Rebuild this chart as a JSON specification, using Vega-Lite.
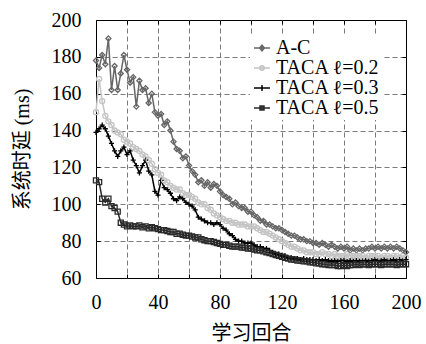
{
  "$schema": "https://vega.github.io/schema/vega-lite/v6.json",
  "width": 310,
  "height": 258,
  "autosize": {"type": "none"},
  "padding": {"left": 96, "top": 20, "right": 20, "bottom": 66},
  "background": "white",
  "config": {"view": {"stroke": "black", "strokeWidth": 1}, "font": "Liberation Serif"},
  "data": {"values": [
    {"x":0,"a":178,"b":150,"c":139,"d":113},
    {"x":2,"a":174,"b":168,"c":141,"d":112},
    {"x":4,"a":181,"b":156,"c":143,"d":103},
    {"x":6,"a":176,"b":148,"c":141,"d":101},
    {"x":8,"a":190,"b":145,"c":137,"d":103},
    {"x":10,"a":162,"b":143,"c":133,"d":99},
    {"x":12,"a":175,"b":140,"c":129,"d":98},
    {"x":14,"a":162,"b":139,"c":126,"d":96},
    {"x":16,"a":171,"b":138,"c":129,"d":90},
    {"x":18,"a":181,"b":135,"c":131,"d":89},
    {"x":20,"a":173,"b":134,"c":127,"d":88},
    {"x":22,"a":166,"b":133,"c":129,"d":88.5},
    {"x":24,"a":169,"b":131,"c":124,"d":88},
    {"x":26,"a":153,"b":130,"c":121,"d":88},
    {"x":28,"a":167,"b":129,"c":117,"d":88.5},
    {"x":30,"a":162,"b":127,"c":121,"d":87.5},
    {"x":32,"a":163,"b":126,"c":124,"d":88},
    {"x":34,"a":155,"b":124,"c":118,"d":87},
    {"x":36,"a":160,"b":122,"c":116,"d":87.5},
    {"x":38,"a":150,"b":119,"c":107,"d":87},
    {"x":40,"a":148,"b":117,"c":105,"d":86.5},
    {"x":42,"a":149,"b":116,"c":113,"d":86},
    {"x":44,"a":143,"b":113,"c":109,"d":86},
    {"x":46,"a":145,"b":112,"c":108,"d":85.5},
    {"x":48,"a":140,"b":110,"c":106,"d":85},
    {"x":50,"a":134,"b":109,"c":103,"d":85},
    {"x":52,"a":130,"b":108,"c":102,"d":84},
    {"x":54,"a":129,"b":108,"c":104,"d":84},
    {"x":56,"a":125,"b":106,"c":103,"d":83.5},
    {"x":58,"a":126,"b":105,"c":101,"d":83},
    {"x":60,"a":121,"b":105,"c":100,"d":83},
    {"x":62,"a":118,"b":104,"c":99,"d":82.5},
    {"x":64,"a":116,"b":103,"c":97,"d":82},
    {"x":66,"a":112,"b":101,"c":93,"d":82},
    {"x":68,"a":113,"b":100,"c":92,"d":81},
    {"x":70,"a":110,"b":100,"c":91,"d":80.5},
    {"x":72,"a":112,"b":98,"c":90,"d":80},
    {"x":74,"a":109,"b":97,"c":90,"d":80},
    {"x":76,"a":111,"b":95,"c":89,"d":79.5},
    {"x":78,"a":110,"b":94,"c":90,"d":79},
    {"x":80,"a":107,"b":93,"c":89,"d":78.5},
    {"x":82,"a":105,"b":92,"c":87,"d":78},
    {"x":84,"a":104,"b":91,"c":86,"d":78},
    {"x":86,"a":103,"b":91,"c":84,"d":77.5},
    {"x":88,"a":100,"b":90,"c":83,"d":77},
    {"x":90,"a":101,"b":90,"c":81,"d":77},
    {"x":92,"a":99,"b":89,"c":80,"d":77},
    {"x":94,"a":98,"b":89,"c":80,"d":76.5},
    {"x":96,"a":98,"b":89,"c":79,"d":76.5},
    {"x":98,"a":96,"b":88,"c":79,"d":76},
    {"x":100,"a":96,"b":88,"c":79,"d":76},
    {"x":102,"a":94,"b":88,"c":78,"d":75.5},
    {"x":104,"a":93,"b":87,"c":77,"d":75},
    {"x":106,"a":91,"b":86,"c":77,"d":75},
    {"x":108,"a":91,"b":85,"c":76,"d":74.5},
    {"x":110,"a":89,"b":85,"c":76,"d":74},
    {"x":112,"a":89,"b":84,"c":75,"d":73.5},
    {"x":114,"a":88,"b":83,"c":74,"d":73},
    {"x":116,"a":87,"b":82,"c":73,"d":72.5},
    {"x":118,"a":87,"b":81,"c":73,"d":72},
    {"x":120,"a":86,"b":80,"c":72,"d":71.5},
    {"x":122,"a":85,"b":79,"c":72,"d":71},
    {"x":124,"a":84,"b":78,"c":71,"d":70.5},
    {"x":126,"a":83,"b":77,"c":71,"d":70},
    {"x":128,"a":83,"b":77,"c":70.5,"d":70},
    {"x":130,"a":82,"b":76,"c":70.5,"d":69.5},
    {"x":132,"a":81,"b":75,"c":70,"d":69.5},
    {"x":134,"a":81,"b":75,"c":70.5,"d":69},
    {"x":136,"a":80,"b":74,"c":70,"d":69},
    {"x":138,"a":80,"b":74,"c":70,"d":68.5},
    {"x":140,"a":79,"b":74,"c":70,"d":68.5},
    {"x":142,"a":79,"b":73,"c":69.5,"d":68},
    {"x":144,"a":78,"b":73,"c":70,"d":68},
    {"x":146,"a":79,"b":74,"c":69.5,"d":67.5},
    {"x":148,"a":78,"b":73,"c":70,"d":67.5},
    {"x":150,"a":77,"b":73,"c":69.5,"d":67},
    {"x":152,"a":78,"b":72,"c":69,"d":67},
    {"x":154,"a":77,"b":73,"c":69.5,"d":67},
    {"x":156,"a":76,"b":72,"c":69,"d":66.5},
    {"x":158,"a":77,"b":72,"c":69.5,"d":66.5},
    {"x":160,"a":76,"b":72,"c":69.5,"d":67},
    {"x":162,"a":77,"b":73,"c":69,"d":66.5},
    {"x":164,"a":75,"b":72,"c":69.5,"d":67},
    {"x":166,"a":76,"b":72,"c":69,"d":67},
    {"x":168,"a":75,"b":72,"c":69.5,"d":67.5},
    {"x":170,"a":76,"b":72,"c":69,"d":67},
    {"x":172,"a":75,"b":72,"c":69.5,"d":67.5},
    {"x":174,"a":76,"b":71,"c":69.5,"d":67.5},
    {"x":176,"a":76,"b":72,"c":69,"d":67},
    {"x":178,"a":77,"b":72,"c":69.5,"d":67.5},
    {"x":180,"a":76,"b":72,"c":70,"d":67.5},
    {"x":182,"a":77,"b":72,"c":69.5,"d":67.5},
    {"x":184,"a":76,"b":71,"c":69.5,"d":67},
    {"x":186,"a":77,"b":72,"c":70,"d":67.5},
    {"x":188,"a":76,"b":72,"c":69.5,"d":67.5},
    {"x":190,"a":77,"b":71,"c":69.5,"d":67.5},
    {"x":192,"a":76,"b":72,"c":70,"d":67.5},
    {"x":194,"a":77,"b":72,"c":69.5,"d":67},
    {"x":196,"a":76,"b":71,"c":70,"d":67.5},
    {"x":198,"a":75,"b":72,"c":69.5,"d":67.5},
    {"x":200,"a":74,"b":71,"c":70,"d":67.5}
  ]},
  "transform": [{"fold": ["a", "b", "c", "d"], "as": ["s", "v"]}],
  "layer": [
    {
      "mark": {"type": "line", "strokeWidth": 1.5},
      "encoding": {
        "x": {"field": "x", "type": "quantitative", "scale": {"domain": [0, 200], "nice": false},
          "axis": {
            "values": [0, 20, 40, 60, 80, 100, 120, 140, 160, 180, 200],
            "labelExpr": "datum.value % 40 == 0 ? datum.label : ''",
            "grid": true,
            "gridColor": {"condition": {"test": "datum.value == 0 || datum.value == 200", "value": "rgba(0,0,0,0)"}, "value": "#7a7a7a"},
            "gridDash": [5, 3], "gridWidth": 1,
            "domain": false, "tickSize": -4, "tickColor": "black", "tickWidth": 1,
            "labelFont": "Liberation Serif", "labelFontSize": 20, "labelColor": "black", "labelPadding": 18, "labelFlush": false, "labelOverlap": false,
            "title": "学习回合", "titleFont": "Liberation Serif, Noto Sans CJK SC", "titleFontSize": 20, "titleFontWeight": "normal", "titleColor": "black",
            "titleY": 55, "titleBaseline": "middle"
          }},
        "y": {"field": "v", "type": "quantitative", "scale": {"domain": [60, 200], "nice": false, "zero": false},
          "axis": {
            "values": [60, 80, 100, 120, 140, 160, 180, 200],
            "grid": true,
            "gridColor": {"condition": {"test": "datum.value == 60 || datum.value == 200", "value": "rgba(0,0,0,0)"}, "value": "#7a7a7a"},
            "gridDash": [5, 3], "gridWidth": 1,
            "domain": false, "tickSize": -4, "tickColor": "black", "tickWidth": 1,
            "labelFont": "Liberation Serif", "labelFontSize": 20, "labelColor": "black", "labelPadding": 19, "labelFlush": false, "labelOverlap": false,
            "title": "系统时延 (ms)", "titleFont": "Liberation Serif, Noto Sans CJK SC", "titleFontSize": 20, "titleFontWeight": "normal", "titleColor": "black",
            "titleX": -74, "titleY": 129, "titleAngle": 270, "titleAlign": "center", "titleBaseline": "middle"
          }},
        "color": {"field": "s", "type": "nominal", "scale": {"domain": ["a", "b", "c", "d"], "range": ["#666666", "#c4c4c4", "#000000", "#2a2a2a"]}, "legend": null}
      }
    },
    {
      "mark": {"type": "point", "filled": false, "size": 26, "strokeWidth": 1.3, "opacity": 1},
      "encoding": {
        "x": {"field": "x", "type": "quantitative", "axis": null},
        "y": {"field": "v", "type": "quantitative", "axis": null},
        "color": {"field": "s", "type": "nominal", "scale": {"domain": ["a", "b", "c", "d"], "range": ["#666666", "#c4c4c4", "#000000", "#2a2a2a"]}, "legend": null},
        "shape": {"field": "s", "type": "nominal", "scale": {"domain": ["a", "b", "c", "d"], "range": ["diamond", "circle", "M-1,0L1,0M0,-1L0,1", "square"]}, "legend": null}
      }
    },
    {
      "mark": {"type": "point", "opacity": 0, "strokeWidth": 1.5},
      "encoding": {
        "x": {"field": "x", "type": "quantitative", "axis": {"orient": "top", "values": [0, 20, 40, 60, 80, 100, 120, 140, 160, 180, 200], "labels": false, "grid": false, "domain": false, "tickSize": -4, "tickColor": "black", "title": null}},
        "y": {"field": "v", "type": "quantitative", "axis": {"orient": "right", "values": [60, 80, 100, 120, 140, 160, 180, 200], "labels": false, "grid": false, "domain": false, "tickSize": -4, "tickColor": "black", "title": null}},
        "shape": {"field": "s", "type": "nominal",
          "scale": {"domain": ["a", "b", "c", "d"], "range": [
            "M-1,0L1,0M0,-0.36L0.3,0L0,0.36L-0.3,0Z",
            "M-1,0L1,0M0.28,0A0.28,0.28,0,1,1,-0.28,0A0.28,0.28,0,1,1,0.28,0Z",
            "M-1,0L1,0M0,-0.36L0,0.36",
            "M-1,0L1,0M-0.25,-0.25L0.25,-0.25L0.25,0.25L-0.25,0.25Z"]},
          "legend": {"title": null, "orient": "none", "legendX": 154, "legendY": 16, "labelExpr": "datum.label == 'a' ? 'A-C' : datum.label == 'b' ? 'TACA ℓ=0.2' : datum.label == 'c' ? 'TACA ℓ=0.3' : 'TACA ℓ=0.5'", "labelFont": "Liberation Serif", "labelFontSize": 20, "labelColor": "black", "labelLimit": 300, "symbolSize": 256, "symbolStrokeWidth": 1.5, "symbolOpacity": 1, "fillColor": "white", "padding": 2, "rowPadding": 0, "labelOffset": 4}},
        "stroke": {"field": "s", "type": "nominal", "scale": {"domain": ["a", "b", "c", "d"], "range": ["#666666", "#c4c4c4", "#000000", "#2a2a2a"]},
          "legend": {"title": null, "orient": "none", "legendX": 154, "legendY": 16, "labelExpr": "datum.label == 'a' ? 'A-C' : datum.label == 'b' ? 'TACA ℓ=0.2' : datum.label == 'c' ? 'TACA ℓ=0.3' : 'TACA ℓ=0.5'", "labelFont": "Liberation Serif", "labelFontSize": 20, "labelColor": "black", "labelLimit": 300, "symbolSize": 256, "symbolStrokeWidth": 1.5, "symbolOpacity": 1, "fillColor": "white", "padding": 2, "rowPadding": 0, "labelOffset": 4}},
        "fill": {"field": "s", "type": "nominal", "scale": {"domain": ["a", "b", "c", "d"], "range": ["#8a8a8a", "#e6e6e6", "#000000", "#555555"]},
          "legend": {"title": null, "orient": "none", "legendX": 154, "legendY": 16, "labelExpr": "datum.label == 'a' ? 'A-C' : datum.label == 'b' ? 'TACA ℓ=0.2' : datum.label == 'c' ? 'TACA ℓ=0.3' : 'TACA ℓ=0.5'", "labelFont": "Liberation Serif", "labelFontSize": 20, "labelColor": "black", "labelLimit": 300, "symbolSize": 256, "symbolStrokeWidth": 1.5, "symbolOpacity": 1, "fillColor": "white", "padding": 2, "rowPadding": 0, "labelOffset": 4}}
      }
    }
  ],
  "resolve": {
    "scale": {"shape": "independent", "fill": "independent", "stroke": "independent"},
    "legend": {"shape": "independent", "fill": "independent", "stroke": "independent"},
    "axis": {"x": "independent", "y": "independent"}
  }
}
